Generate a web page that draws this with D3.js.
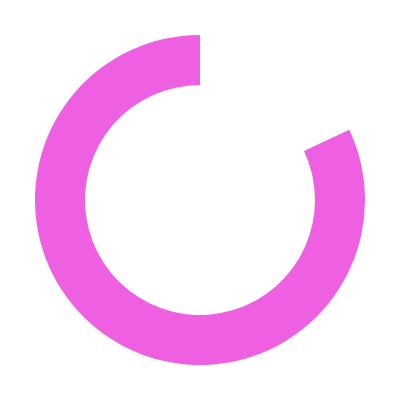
<!DOCTYPE html>
<html>
<head>
<meta charset="utf-8">
<script src="https://cdn.jsdelivr.net/npm/d3@7"></script>
<style>
  body { margin: 0; background: #fff; }
</style>
</head>
<body>
<div id="chart"></div>
<script>
// Data
var labels = ["rest", "value"],
  values = [18, 82],
  colors = ["none", "#ee5fe1"];

// Placement
var width = 400,
  height = 400,
  outerR = 165,
  innerR = 115;

var svg = d3.select("#chart")
  .append("svg")
  .attr("width", width)
  .attr("height", height)
  .append("g")
  .attr("transform", "translate(" + width / 2 + "," + height / 2 + ")");

var pie = d3.pie()
  .sort(null)
  .value(function(d) { return d; });

var arc = d3.arc()
  .innerRadius(innerR)
  .outerRadius(outerR);

var color = d3.scaleOrdinal()
  .domain(labels)
  .range(colors);

svg.selectAll("path")
  .data(pie(values))
  .enter().append("path")
  .attr("d", arc)
  .attr("fill", function(d, i) { return color(labels[i]); });
</script>
</body>
</html>
